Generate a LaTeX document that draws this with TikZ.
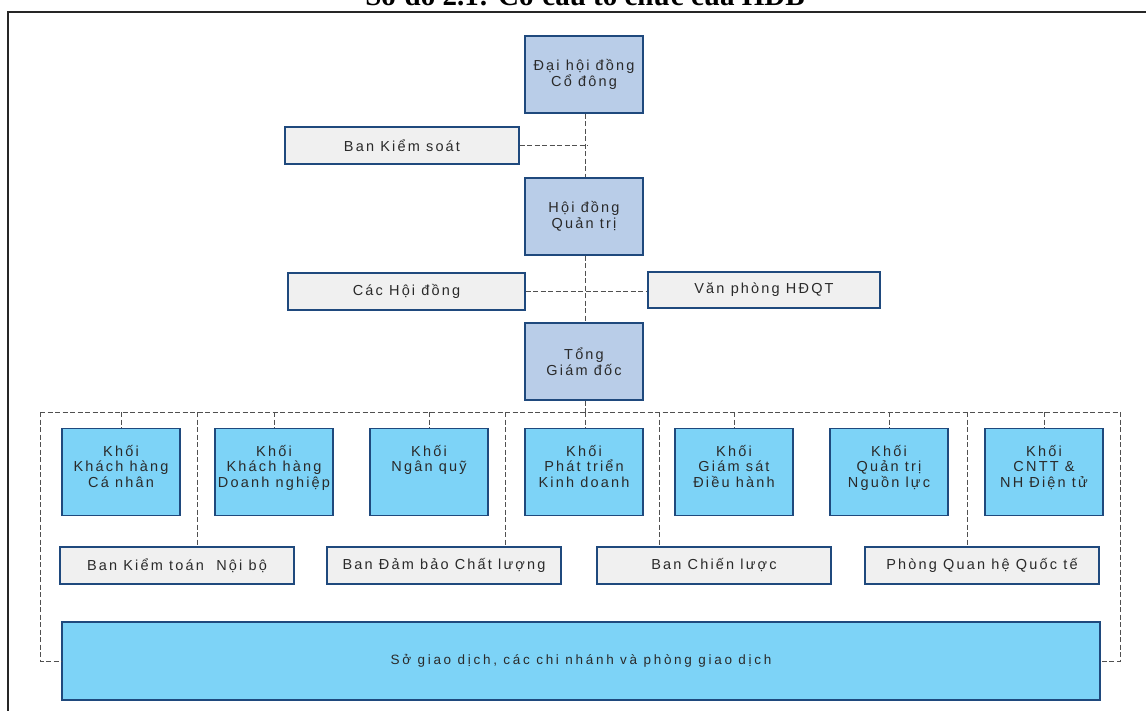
\documentclass[tikz,border=0pt]{standalone}
\usepackage{fontspec}
\setmainfont{Liberation Sans}
\newfontfamily\titlefont{Liberation Serif}
\newfontfamily\boxfont[LetterSpace=15]{Liberation Sans}
\newfontfamily\bigfont[LetterSpace=20]{Liberation Sans}
\definecolor{topfill}{HTML}{B9CDE8}
\definecolor{khoifill}{HTML}{7DD3F7}
\definecolor{banfill}{HTML}{F0F0F0}
\definecolor{bordc}{HTML}{1F497D}
\definecolor{dashc}{HTML}{505050}
\definecolor{txtc}{HTML}{2A2A2A}
\tikzset{
  basebox/.style={draw=bordc, line width=1.3pt, inner sep=0pt, text=txtc,
    font=\boxfont\fontsize{14.5}{15.5}\selectfont, align=center},
  topbox/.style={basebox, fill=topfill, minimum width=118pt, minimum height=77pt},
  khoibox/.style={basebox, fill=khoifill, minimum width=118pt, minimum height=87pt},
  banbox/.style={basebox, fill=banfill, minimum width=234pt, minimum height=37pt},
  bigbox/.style={basebox, fill=khoifill, minimum width=1038pt, minimum height=78pt,
    font=\bigfont\fontsize{13.5}{15}\selectfont},
  khoitext/.style={anchor=north, inner sep=0pt, text=txtc, align=center,
    font=\boxfont\fontsize{14.5}{15.5}\selectfont},
  conn/.style={draw=dashc, line width=0.9pt, dash pattern=on 5pt off 2.5pt},
  frameline/.style={draw=black!85, line width=2pt}
}
\begin{document}
\begin{tikzpicture}[x=1pt,y=-1pt]
\useasboundingbox (0,0) rectangle (1146,711);
% title (cut off at top)
\node[anchor=base, inner sep=0pt, font=\titlefont\bfseries\fontsize{29}{32}\selectfont] (title) at (585,6) {Sơ đồ 2.1: Cơ cấu tổ chức của HDB};
% frame
\coordinate (fbl) at (8,720);
\coordinate (ftl) at (8,12);
\coordinate (ftr) at (1160,12);
\draw[frameline] (fbl) -- (ftl) -- (ftr);

% top chain
\node[topbox] (dhd) at (584,74.5) {Đại hội đồng\\Cổ đông};
\node[topbox] (hdqt) at (584,216.5) {Hội đồng\\Quản trị};
\node[topbox] (tgd) at (584,361.5) {Tổng\\Giám đốc};
\node[banbox] (bks) at (402,145.5) {Ban Kiểm soát};
\node[banbox, minimum width=237pt] (chd) at (406.5,291.5) {Các Hội đồng};
\node[banbox, minimum width=232pt, minimum height=36pt] (vp) at (764,290) {Văn phòng HĐQT};

% Khoi boxes
\foreach \n/\x/\t in {k1/121/{Khối\\Khách hàng\\Cá nhân},
                      k2/274/{Khối\\Khách hàng\\Doanh nghiệp},
                      k3/429/{Khối\\Ngân quỹ},
                      k4/584/{Khối\\Phát triển\\Kinh doanh},
                      k5/734/{Khối\\Giám sát\\Điều hành},
                      k6/889/{Khối\\Quản trị\\Nguồn lực},
                      k7/1044/{Khối\\CNTT \&\\NH Điện tử}}{
  \node[khoibox] (\n) at (\x,472) {};
  \node[khoitext] (\n t) at ([yshift=-17pt]\n.north) {\t};
}

% Ban boxes
\node[banbox] (b1) at (177,565.5) {Ban Kiểm toán\ \ Nội bộ};
\node[banbox] (b2) at (444,565.5) {Ban Đảm bảo Chất lượng};
\node[banbox] (b3) at (714,565.5) {Ban Chiến lược};
\node[banbox] (b4) at (982,565.5) {Phòng Quan hệ Quốc tế};

% big box
\node[bigbox] (big) at (581,661) {Sở giao dịch, các chi nhánh và phòng giao dịch};

% connectors
\coordinate (busL) at (40,412);
\coordinate (busR) at (1120,412);
\coordinate (busM) at (585,412);
\draw[conn] (dhd.south -| busM) -- (hdqt.north -| busM);
\draw[conn] (hdqt.south -| busM) -- (tgd.north -| busM);
\draw[conn] (tgd.south -| busM) -- (busM);
\coordinate (bksend) at (588,145.5);
\draw[conn] (bks.east) -- (bksend);
\draw[conn] (chd.east) -- (vp.west |- chd.east);
\draw[conn] (busL) -- (busR);
\foreach \n in {k1,k2,k3,k5,k6,k7}{
  \draw[conn] (\n.north |- busL) -- (\n.north);
}
\draw[conn] (busM) -- (busM |- k4.north);
\foreach \n/\x in {b1/197,b2/505,b3/659,b4/967}{
  \draw[conn] (\x,412) -- (\x,547);
}
\draw[conn] (busL) -- (busL |- big.west) -- (big.west);
\draw[conn] (busR) -- (busR |- big.east) -- (big.east);
\end{tikzpicture}
\end{document}
